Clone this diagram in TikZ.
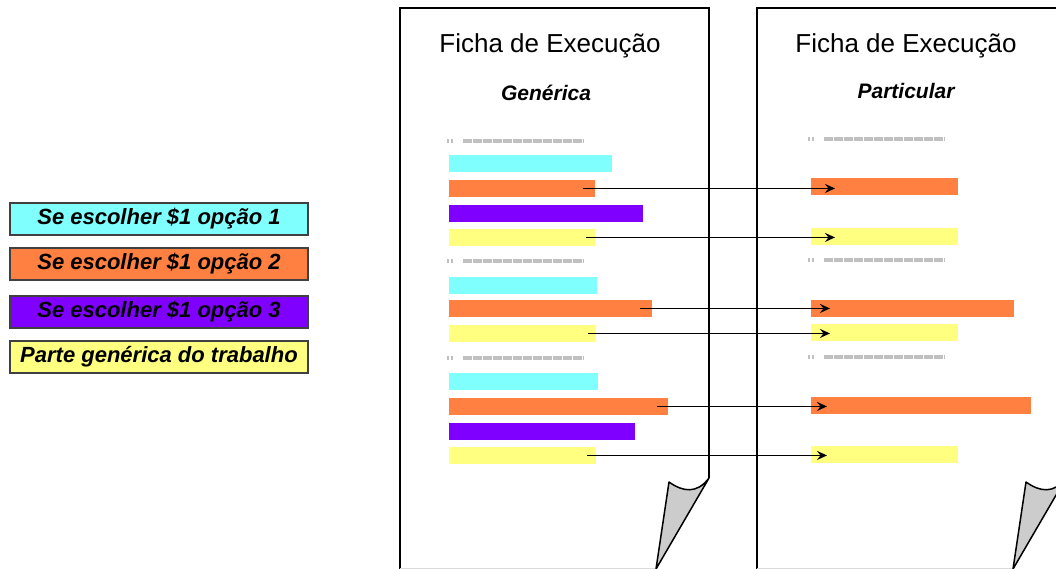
\documentclass[tikz,border=0pt]{standalone}
\usepackage{fontspec}
\setmainfont{Liberation Sans}
\usetikzlibrary{arrows.meta,calc}
\definecolor{ciano}{HTML}{80FFFF}
\definecolor{laranja}{HTML}{FF8040}
\definecolor{roxo}{HTML}{8000FF}
\definecolor{amarelo}{HTML}{FFFF80}
\definecolor{cinza}{HTML}{C0C0C0}
\definecolor{dobra}{HTML}{CCCCCC}

\begin{document}
\begin{tikzpicture}[x=1pt,y=-1pt,
  barra/.style={anchor=north west,inner sep=0pt,minimum height=16.5pt},
  legenda/.style={draw=black!75,line width=1.5pt,inner sep=0pt,minimum width=298pt,minimum height=32pt,font=\fontsize{22}{24}\selectfont\bfseries\itshape},
  titulo/.style={anchor=base,font=\fontsize{26}{30}\selectfont},
  subtitulo/.style={anchor=base,font=\fontsize{21}{24}\selectfont\bfseries\itshape},
  pontilhado/.style={cinza,line width=4pt},
  seta/.style={-{Stealth[length=10pt,width=9pt,inset=3.5pt]},line width=1.6pt}]
\useasboundingbox (0,0) rectangle (1056,569);
\clip (0,0) rectangle (1056,569);

\foreach \d in {0,357} {
  \draw[line width=1.5pt] (400+\d,569) -- (400+\d,8) -- (709+\d,8) -- (709+\d,478);
  \draw[cinza!60,line width=1pt] (400+\d,568) -- (656+\d,568);
  \filldraw[fill=dobra,line width=1.5pt,line join=round] (709+\d,478) .. controls (697+\d,494) and (683+\d,492) .. (669+\d,482) -- (656+\d,569) -- cycle;
}

\node[titulo] (t1) at (550,53) {Ficha de Execução};
\node[subtitulo] (s1) at (546,101) {Genérica};
\node[titulo] (t2) at (906,53) {Ficha de Execução};
\node[subtitulo] (s2) at (906,99) {Particular};

\foreach \x/\y in {447/141, 447/261, 447/358, 808/139, 808/260, 808/357} {
  \draw[pontilhado,dash pattern=on 2pt off 2pt] (\x,\y) -- ++(6,0);
  \draw[pontilhado,dash pattern=on 8.5pt off 1.5pt] (\x+16,\y) -- ++(121,0);
}

\node[barra,fill=ciano,minimum width=163pt] (g1c) at (449,155) {};
\node[barra,fill=laranja,minimum width=146pt] (g1o) at (449,180) {};
\node[barra,fill=roxo,minimum width=194pt] (g1r) at (449,205) {};
\node[barra,fill=amarelo,minimum width=146pt] (g1a) at (449,229) {};
\node[barra,fill=ciano,minimum width=148pt] (g2c) at (449,277) {};
\node[barra,fill=laranja,minimum width=203pt] (g2o) at (449,300) {};
\node[barra,fill=amarelo,minimum width=147pt] (g2a) at (449,325) {};
\node[barra,fill=ciano,minimum width=149pt] (g3c) at (449,373) {};
\node[barra,fill=laranja,minimum width=219pt] (g3o) at (449,398) {};
\node[barra,fill=roxo,minimum width=186pt] (g3r) at (449,423) {};
\node[barra,fill=amarelo,minimum width=147pt] (g3a) at (449,447) {};

\node[barra,fill=laranja,minimum width=147pt] (p1o) at (811,178) {};
\node[barra,fill=amarelo,minimum width=147pt] (p1a) at (811,228) {};
\node[barra,fill=laranja,minimum width=203pt] (p2o) at (811,300) {};
\node[barra,fill=amarelo,minimum width=147pt] (p2a) at (811,324) {};
\node[barra,fill=laranja,minimum width=220pt] (p3o) at (811,397) {};
\node[barra,fill=amarelo,minimum width=147pt] (p3a) at (811,446) {};

\foreach \a/\b/\s/\e in {g1o/p1o/12/24, g1a/p1a/9/24, g2o/p2o/12/19, g2a/p2a/8/19, g3o/p3o/11/16, g3a/p3a/9/16}
  \draw[seta] ($(\a.east)+(-\s,0)$) -- ($(\a.east -| \b.west)+(\e,0)$);

\node[legenda,fill=ciano] (l1) at (159,219) {Se escolher \$1 opção 1};
\node[legenda,fill=laranja] (l2) at (159,264) {Se escolher \$1 opção 2};
\node[legenda,fill=roxo] (l3) at (159,312) {Se escolher \$1 opção 3};
\node[legenda,fill=amarelo] (l4) at (159,357) {Parte genérica do trabalho};
\end{tikzpicture}
\end{document}
